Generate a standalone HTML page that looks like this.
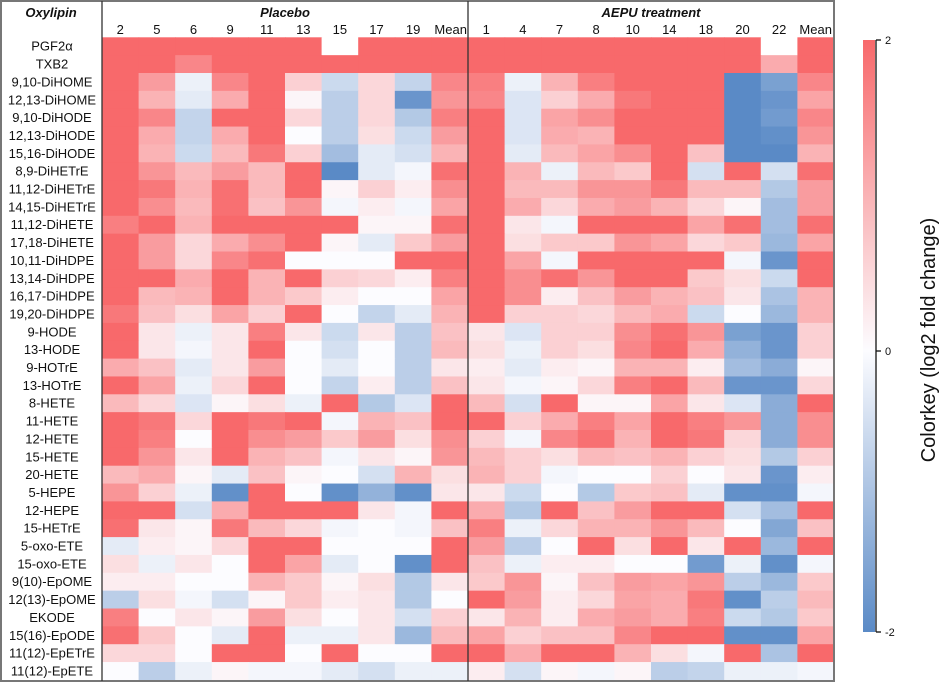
<!DOCTYPE html>
<html><head><meta charset="utf-8"><style>
body{margin:0;background:#fff;font-family:"Liberation Sans",Arial,sans-serif}
svg text{font-family:"Liberation Sans",Arial,sans-serif}
</style></head><body>
<svg id="c" width="941" height="684" xmlns="http://www.w3.org/2000/svg">
<defs><linearGradient id="g" x1="0" y1="0" x2="0" y2="1">
<stop offset="0" stop-color="#F8696B"/><stop offset="0.525" stop-color="#FCFCFF"/><stop offset="1" stop-color="#5A8AC6"/></linearGradient></defs>
</svg>
<script>
const rowLabels=["PGF2α","TXB2","9,10-DiHOME","12,13-DiHOME","9,10-DiHODE","12,13-DiHODE","15,16-DiHODE","8,9-DiHETrE","11,12-DiHETrE","14,15-DiHETrE","11,12-DiHETE","17,18-DiHETE","10,11-DiHDPE","13,14-DiHDPE","16,17-DiHDPE","19,20-DiHDPE","9-HODE","13-HODE","9-HOTrE","13-HOTrE","8-HETE","11-HETE","12-HETE","15-HETE","20-HETE","5-HEPE","12-HEPE","15-HETrE","5-oxo-ETE","15-oxo-ETE","9(10)-EpOME","12(13)-EpOME","EKODE","15(16)-EpODE","11(12)-EpETrE","11(12)-EpETE"];
const placeboCols=["2","5","6","9","11","13","15","17","19","Mean"];
const aepuCols=["1","4","7","8","10","14","18","20","22","Mean"];
const placebo=[
[2,2,2,2,2,2,null,2,2,2],
[2,2,1.6,2,2,2,2,2,2,2],
[2,1.3,-0.2,1.6,2,0.6,-0.6,0.5,-0.7,1.6],
[2,1,-0.3,1.1,2,0.1,-0.8,0.5,-1.8,1.4],
[2,1.6,-0.7,2,2,0.5,-0.8,0.5,-0.9,1.7],
[2,1.1,-0.7,1.1,2,0,-0.8,0.4,-0.6,1.3],
[2,1,-0.6,0.9,1.8,0.6,-1.1,-0.3,-0.5,1],
[2,1.4,0.9,1.3,0.9,2,-2,-0.3,-0.1,1.9],
[2,1.8,1,1.9,0.9,2,0.1,0.6,0.2,1.5],
[2,1.5,0.9,1.9,0.8,1.4,-0.1,0.2,-0.1,1.2],
[1.7,2,1,2,2,2,2,0.1,0.1,1.9],
[2,1.3,0.5,1.1,1.5,2,0.1,-0.3,0.7,1.3],
[2,1.3,0.5,1.6,1.9,0,0,0,2,2],
[2,2,1.1,2,1,2,0.6,0.5,0.2,1.7],
[2,0.9,1,2,1,0.7,0.2,0,0,1.2],
[1.8,0.8,0.4,1.2,0.6,2,0,-0.7,-0.3,1],
[2,0.3,-0.2,0.3,1.7,0.3,-0.6,0.3,-0.8,0.8],
[2,0.3,-0.1,0.3,2,0,-0.5,0,-0.8,0.9],
[1.1,0.8,-0.3,0.3,1.3,0,-0.3,0,-0.8,0.3],
[2,1.2,-0.2,0.5,2,0,-0.7,0.2,-0.8,0.8],
[0.9,0.5,-0.4,0.1,0.4,-0.2,2,-0.9,-0.4,2],
[2,1.8,0.5,2,1.8,2,-0.1,1,0.8,2],
[2,1.7,0,2,1.5,1.3,0.7,1.3,0.4,1.5],
[2,1.4,0.3,2,1,0.8,-0.1,0.3,0.1,1.4],
[0.9,1.1,0.1,-0.3,0.8,0.1,0,-0.5,1,0.4],
[1.4,0.6,-0.2,-1.9,2,0,-1.9,-1.3,-1.9,0.3],
[2,2,-0.5,1.1,2,2,2,0.3,-0.1,2],
[1.9,0.3,0.1,1.8,0.9,0.5,-0.1,0,-0.1,0.8],
[-0.3,0.2,0.1,0.5,2,2,0,0,0,2],
[0.4,-0.2,0.3,0,2,1.2,-0.3,0,-1.9,2],
[0.2,0.2,0,0,1,0.7,0.1,0.4,-0.9,0.3],
[-0.8,0.4,-0.1,-0.5,0.1,0.7,0.2,0.3,-0.9,0],
[1.7,0,0.3,0.1,1.3,0.4,0,0.3,-0.5,0.6],
[1.9,0.7,0,-0.3,2,-0.2,-0.2,0.3,-1.2,0.9],
[0.5,0.5,0,2,2,0,2,0,0,2],
[0,-0.8,-0.2,0.1,-0.1,-0.1,-0.3,-0.5,-0.2,-0.2]];
const aepu=[
[2,2,2,2,2,2,2,2,null,2],
[2,2,2,2,2,2,2,2,1.1,2],
[1.7,-0.2,1,1.7,2,2,2,-2,-1.6,1.6],
[1.6,-0.4,0.6,1.1,1.8,2,2,-2,-1.8,1.2],
[2,-0.4,1.2,1.5,2,2,2,-2,-1.7,1.6],
[2,-0.4,1.1,1.0,2,2,2,-2,-1.9,1.4],
[2,-0.3,0.9,1.2,1.5,2,0.8,-2,-2,1],
[2,1,-0.2,0.9,0.7,2,-0.5,2,-0.5,1.9],
[2,0.9,0.9,1.4,1.4,1.8,0.9,0.9,-0.9,1.3],
[2,1.1,0.5,1.1,1.3,1,0.5,0.1,-1.1,1.3],
[2,0.3,-0.1,2,2,2,1.2,1.9,-1.1,1.9],
[2,0.4,0.7,0.7,1.4,1.2,0.5,0.7,-1.2,1.2],
[2,1.2,-0.1,2,2,2,2,-0.1,-1.8,2],
[2,1.5,1.9,1.4,2,2,0.7,0.4,-0.6,2],
[2,1.5,0.2,0.8,1.3,1,0.8,0.3,-1,1],
[2,0.6,0.6,0.5,0.9,1.1,-0.6,0,-1.2,1],
[0.3,-0.4,0.6,0.6,1.5,1.9,1.4,-1.6,-1.8,0.6],
[0.4,-0.2,0.6,0.4,1.6,2,1.1,-1.3,-1.8,0.6],
[0.2,-0.3,0.2,0.1,1,1,0.2,-1.1,-1.4,0.1],
[0.3,-0.1,0.1,0.5,1.7,2,0.9,-1.8,-1.8,0.5],
[0.9,-0.5,2,0.1,0.1,1.2,0.3,-0.4,-1.4,2],
[2,0.6,1.1,1.7,1.2,2,1.7,1.4,-1.4,1.5],
[0.6,-0.1,1.6,1.9,1,2,1.8,0.5,-1.4,1.5],
[0.9,0.6,0.4,0.9,0.8,1.0,0.6,0.4,-0.9,0.6],
[1.0,0.6,-0.1,0,0,0.6,0,0.3,-1.8,0.2],
[0.3,-0.6,0,-0.9,0.7,0.8,-0.3,-1.9,-1.9,-0.1],
[1.1,-0.9,2,0.8,1.3,2,2,-0.5,-1.1,2],
[1.7,-0.2,0.5,1,1,1.4,0.9,0,-1.5,0.8],
[1.3,-0.8,0,2,0.4,2,0.3,2,-1.2,2],
[0.8,-0.2,0.2,0.2,0,0,-1.7,-0.2,-1.9,-0.1],
[0.7,1.4,0.1,0.8,1.3,1.2,1.4,-0.8,-1.2,0.7],
[2,1.3,0.2,0.5,1.2,1.1,1.8,-1.9,-0.8,0.9],
[0.3,1.0,0.2,1.1,1.3,1.1,1.7,-0.6,-0.9,0.7],
[1.2,0.6,0.8,0.8,1.6,2,2,-1.9,-1.9,1.2],
[2,1.1,2,2,1,0.4,-0.1,2,-1,2],
[0.2,-0.5,0.1,-0.1,0.1,-0.8,-0.7,-0.2,-0.2,-0.1]];
const cbTicks=[2,0,-2];

const NS="http://www.w3.org/2000/svg";
const svg=document.getElementById('c');
function mk(t,a,p){const e=document.createElementNS(NS,t);for(const k in a)e.setAttribute(k,a[k]);(p||svg).appendChild(e);return e;}
const top0=37.3, rh=17.85, cw=36.6;
const yRow=i=>top0+i*rh;
const xP=j=>102+j*cw, xA=j=>468+j*cw;
function color(v){
  if(v===null)return '#ffffff';
  v=Math.max(-2,Math.min(2,v));const w=[252,252,255];
  const e=v>=0?[248,105,107]:[90,138,198];const t=Math.abs(v)/2;
  return 'rgb('+w.map((c,i)=>Math.round(c+(e[i]-c)*t)).join(',')+')';
}
function drawGroup(data,xf,grp){
  data.forEach((row,i)=>row.forEach((v,j)=>{
    const r=mk('rect',{x:xf(j),y:yRow(i),width:cw+0.6,height:rh+0.6,fill:color(v)});
    
    
  }));
}
drawGroup(placebo,xP,'placebo');
drawGroup(aepu,xA,'aepu');
// headers
function txt(x,y,s,opt){const t=mk('text',Object.assign({x:x,y:y,'font-size':13,'text-anchor':'middle',fill:'#111'},opt||{}));t.textContent=s;return t;}
let t=txt(51,17,'Oxylipin',{'font-weight':'bold','font-style':'italic'});

t=txt(285,17,'Placebo',{'font-weight':'bold','font-style':'italic'});

t=txt(651,17,'AEPU treatment',{'font-weight':'bold','font-style':'italic'});

placeboCols.forEach((c,j)=>{const e=txt(xP(j)+cw/2-(c==='Mean'?-1:0),34,c);

});
aepuCols.forEach((c,j)=>{const e=txt(xA(j)+cw/2,34,c);

});
rowLabels.forEach((r,i)=>{const e=txt(52,yRow(i)+rh/2+4.5,r);

});
// lines
mk('rect',{x:1,y:1,width:833,height:680,fill:'none',stroke:'#777','stroke-width':2});
mk('line',{x1:102,y1:1,x2:102,y2:681,stroke:'#333','stroke-width':1.3});
mk('line',{x1:468,y1:1,x2:468,y2:681,stroke:'#333','stroke-width':1.3});
// colorbar
const cbTop=40, cbBot=632, cbMid=351;
const cbY=v=>v>=0?cbMid-(cbMid-cbTop)*v/2:cbMid+(cbBot-cbMid)*(-v)/2;
const cb=mk('rect',{x:863,y:cbTop,width:12,height:cbBot-cbTop,fill:'url(#g)'});

mk('line',{x1:876,y1:cbTop,x2:876,y2:cbBot,stroke:'#111','stroke-width':1.3});
cbTicks.forEach(v=>{const y=cbY(v);mk('line',{x1:876,y1:y,x2:881,y2:y,stroke:'#111','stroke-width':1.3});
const e=txt(885,y+4,String(v),{'text-anchor':'start','font-size':11});

});
t=mk('text',{x:0,y:0,'font-size':20,'text-anchor':'middle',fill:'#111',transform:'translate(935,340) rotate(-90)'});
t.textContent='Colorkey (log2 fold change)';

</script>
</body></html>
